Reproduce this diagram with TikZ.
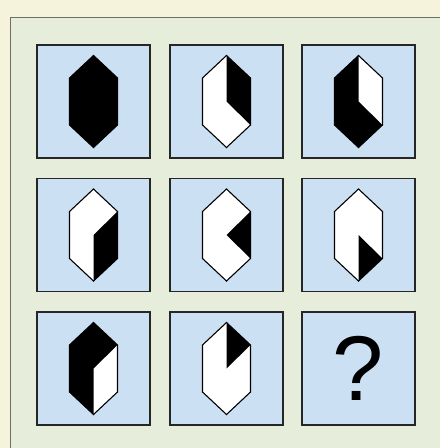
\documentclass[tikz,border=0pt]{standalone}
\usepackage{fontspec}
\setmainfont{Liberation Sans}
\definecolor{outerbg}{RGB}{245,243,220}
\definecolor{panelbg}{RGB}{230,237,218}
\definecolor{cellbg}{RGB}{204,224,244}
\definecolor{panelline}{RGB}{110,112,100}
\newcommand\hexcoords{%
  \coordinate (T) at (0,-46);
  \coordinate (UR) at (24,-23.5);
  \coordinate (LR) at (24,23.5);
  \coordinate (B) at (0,46);
  \coordinate (LL) at (-24,23.5);
  \coordinate (UL) at (-24,-23.5);
  \coordinate (C) at (0,0);
  \fill[white] (T) -- (UR) -- (LR) -- (B) -- (LL) -- (UL) -- cycle;}
\newcommand\hexoutline{\draw[hexline] (T) -- (UR) -- (LR) -- (B) -- (LL) -- (UL) -- cycle;}
\tikzset{
  cell/.style={draw=black!85, fill=cellbg, line width=1.3pt, minimum size=113pt, inner sep=0pt, outer sep=0pt},
  hexline/.style={draw=black, line width=1.1pt, line join=miter},
  blk/.style={fill=black},
}
\begin{document}
\begin{tikzpicture}[x=1pt,y=-1pt]
\fill[outerbg] (0,0) rectangle (440,448);
\useasboundingbox (0,0) rectangle (440,448);
\fill[panelbg] (10.5,17) rectangle (440,448);
\draw[panelline, line width=1pt] (10.5,448) -- (10.5,17) -- (440,17);
% cells
\node[cell] (c11) at (93.5,101.5) {};
\node[cell] (c12) at (226.5,101.5) {};
\node[cell] (c13) at (358.5,101.5) {};
\node[cell] (c21) at (93.5,235) {};
\node[cell] (c22) at (226.5,235) {};
\node[cell] (c23) at (358.5,235) {};
\node[cell] (c31) at (93.5,368.5) {};
\node[cell] (c32) at (226.5,368.5) {};
\node[cell] (c33) at (358.5,368.5) {};
% row 1
\begin{scope}[shift={(c11.center)}]
\hexcoords
\fill[blk] (T) -- (UR) -- (LR) -- (B) -- (LL) -- (UL) -- cycle;
\hexoutline
\end{scope}
\begin{scope}[shift={(c12.center)}]
\hexcoords
\fill[blk] (T) -- (UR) -- (LR) -- (C) -- cycle;
\hexoutline
\end{scope}
\begin{scope}[shift={(c13.center)}]
\hexcoords
\fill[blk] (T) -- (C) -- (LR) -- (B) -- (LL) -- (UL) -- cycle;
\hexoutline
\end{scope}
% row 2
\begin{scope}[shift={(c21.center)}]
\hexcoords
\fill[blk] (C) -- (UR) -- (LR) -- (B) -- cycle;
\hexoutline
\end{scope}
\begin{scope}[shift={(c22.center)}]
\hexcoords
\fill[blk] (C) -- (UR) -- (LR) -- cycle;
\hexoutline
\end{scope}
\begin{scope}[shift={(c23.center)}]
\hexcoords
\fill[blk] (C) -- (LR) -- (B) -- cycle;
\hexoutline
\end{scope}
% row 3
\begin{scope}[shift={(c31.center)}]
\hexcoords
\fill[blk] (T) -- (UR) -- (C) -- (B) -- (LL) -- (UL) -- cycle;
\hexoutline
\end{scope}
\begin{scope}[shift={(c32.center)}]
\hexcoords
\fill[blk] (T) -- (UR) -- (C) -- cycle;
\hexoutline
\end{scope}
\node[font=\fontsize{92}{92}\selectfont, inner sep=0pt] (q) at (c33.center) {?};
\end{tikzpicture}
\end{document}
